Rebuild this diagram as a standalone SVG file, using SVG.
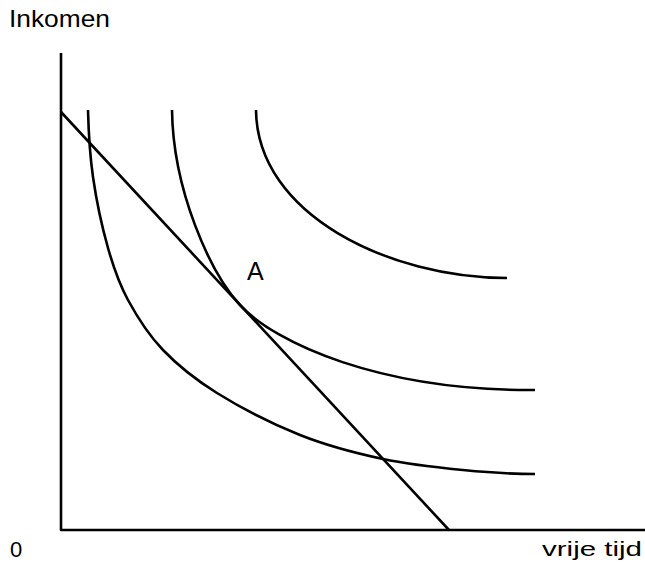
<svg xmlns="http://www.w3.org/2000/svg" width="645" height="563" viewBox="0 0 645 563">
<style>
.ln{fill:none;stroke:#000;stroke-width:2.6;stroke-linecap:butt;stroke-linejoin:round}
.t{font-family:"Liberation Sans",Arial,sans-serif;fill:#000}
</style>
<rect width="645" height="563" fill="#fff"/>
<g id="axes">
<path class="ln" d="M61,53 V530 H645"/>
</g>
<g id="connectors">
<path id="budget" class="ln" d="M61,112 L449,530"/>
</g>
<g id="curve1"><path class="ln" d="M88,110 C88.5,130 89.7,154 93,177 C96.3,200 102.2,227.5 108,248 C113.8,268.5 118.8,283 128,300 C137.2,317 148.2,334.5 163,350 C177.8,365.5 194.2,378.8 217,393 C239.8,407.2 272.3,424 300,435 C327.7,446 355.8,453.2 383,459 C410.2,464.8 437.7,467.5 463,470 C488.3,472.5 511,474 535,474"/></g>
<g id="curve2"><path class="ln" d="M172,110 C173,190 210,272.7 240,305 C275,343 380,391 535,390"/></g>
<g id="curve3"><path class="ln" d="M256,110 C257,215 390,278 507,278"/></g>
<g id="labels">
<text class="t" x="9" y="27" font-size="24" textLength="101" lengthAdjust="spacingAndGlyphs">Inkomen</text>
<text class="t" x="10" y="557" font-size="22">0</text>
<text class="t" x="542" y="556" font-size="20" textLength="100" lengthAdjust="spacingAndGlyphs">vrije tijd</text>
<text class="t" x="247" y="280" font-size="25">A</text>
</g>
</svg>
